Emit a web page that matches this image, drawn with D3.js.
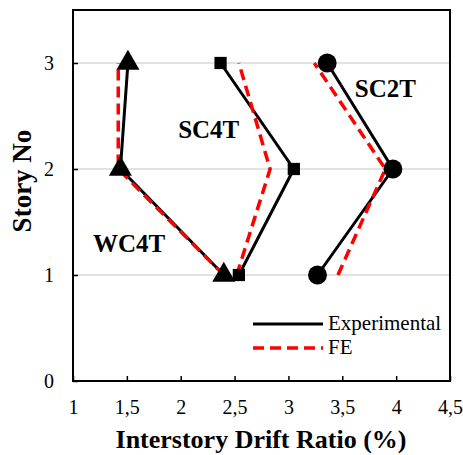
<!DOCTYPE html>
<html>
<head>
<meta charset="utf-8">
<script src="https://cdn.jsdelivr.net/npm/d3@7"></script>
<style>
  body { margin: 0; background: #fff; }
  text { font-family: "Liberation Serif", "Times New Roman", serif; }
</style>
</head>
<body>
<div id="chart"></div>
<script>
// stories
const stories = [1, 2, 3];

// drift ratio (%) per story 1..3
const wc4tExp = [2.40, 1.44, 1.51];
const wc4tFE  = [2.40, 1.42, 1.42];
const sc4tExp = [2.54, 3.05, 2.37];
const sc4tFE  = [2.52, 2.83, 2.54];
const sc2tExp = [3.27, 3.97, 3.36];
const sc2tFE  = [3.46, 3.90, 3.24];

const xTicks = [1, 1.5, 2, 2.5, 3, 3.5, 4, 4.5];
const yTicks = [0, 1, 2, 3];

const W = 463, H = 455;
const m = { left: 73, right: 13, top: 10, bottom: 74 };

const svg = d3.select("#chart").append("svg")
    .attr("width", W).attr("height", H);

const x = d3.scaleLinear().domain([1, 4.5]).range([m.left, W - m.right]);
const y = d3.scaleLinear().domain([0, 3.5]).range([H - m.bottom, m.top]);

// gridlines
svg.append("g").selectAll("line")
    .data(yTicks.filter(d => d > 0))
    .enter().append("line")
    .attr("x1", x(1)).attr("x2", x(4.5))
    .attr("y1", d => y(d)).attr("y2", d => y(d))
    .attr("stroke", "#d9d9d9").attr("stroke-width", 1.5);

// frame
svg.append("rect")
    .attr("x", x(1)).attr("y", y(3.5))
    .attr("width", x(4.5) - x(1)).attr("height", y(0) - y(3.5))
    .attr("fill", "none").attr("stroke", "#000").attr("stroke-width", 2);

// axes, ticks inward
const xAxis = svg.append("g")
    .attr("transform", `translate(0,${y(0)})`)
    .call(d3.axisBottom(x).tickValues(xTicks).tickSize(-5).tickPadding(19)
        .tickFormat(d => String(d).replace(".", ",")));
const yAxis = svg.append("g")
    .attr("transform", `translate(${x(1)},0)`)
    .call(d3.axisLeft(y).tickValues(yTicks).tickSize(-5).tickPadding(19)
        .tickFormat(d3.format("d")));

[xAxis, yAxis].forEach(a => {
    a.select(".domain").remove();
    a.selectAll("line").attr("stroke", "#000").attr("stroke-width", 1.5);
    a.selectAll("text").attr("font-size", 20)
        .attr("font-family", "Liberation Serif, serif").attr("fill", "#000");
});

// axis titles
svg.append("text")
    .attr("x", 261).attr("y", 448)
    .attr("text-anchor", "middle")
    .attr("font-size", 26).attr("font-weight", "bold")
    .text("Interstory Drift Ratio (%)");

svg.append("text")
    .attr("transform", `translate(31,181) rotate(-90)`)
    .attr("text-anchor", "middle")
    .attr("font-size", 27).attr("font-weight", "bold")
    .text("Story No");

const line = d3.line().x(d => x(d[0])).y(d => y(d[1]));
const pts = vals => vals.map((v, i) => [v, stories[i]]);

const fe = [wc4tFE, sc4tFE, sc2tFE];
const exp = [
    { vals: wc4tExp, shape: d3.symbolTriangle, size: 230 },
    { vals: sc4tExp, shape: d3.symbolSquare, size: 150 },
    { vals: sc2tExp, shape: d3.symbolCircle, size: 280 }
];

// experimental lines
svg.append("g").selectAll("path")
    .data(exp).enter().append("path")
    .attr("d", d => line(pts(d.vals)))
    .attr("fill", "none").attr("stroke", "#000").attr("stroke-width", 3);

// FE dashed lines
svg.append("g").selectAll("path")
    .data(fe).enter().append("path")
    .attr("d", d => line(pts(d)))
    .attr("fill", "none").attr("stroke", "#ff0000").attr("stroke-width", 3.5)
    .attr("stroke-dasharray", "11,6");

// markers
exp.forEach(s => {
    svg.append("g").selectAll("path")
        .data(pts(s.vals)).enter().append("path")
        .attr("transform", d => `translate(${x(d[0])},${y(d[1])})`)
        .attr("d", d3.symbol().type(s.shape).size(s.size))
        .attr("fill", "#000");
});

// series labels
const labels = [
    { t: "SC2T", xv: 3.9, yv: 2.68 },
    { t: "SC4T", xv: 2.26, yv: 2.29 },
    { t: "WC4T", xv: 1.52, yv: 1.22 }
];
svg.append("g").selectAll("text")
    .data(labels).enter().append("text")
    .attr("x", d => x(d.xv)).attr("y", d => y(d.yv))
    .attr("text-anchor", "middle")
    .attr("font-size", 25).attr("font-weight", "bold")
    .text(d => d.t);

// legend
const lg = svg.append("g");
const legendItems = [
    { t: "Experimental", dash: null, c: "#000", w: 3 },
    { t: "FE", dash: "11,6", c: "#ff0000", w: 3.5 }
];
legendItems.forEach((d, i) => {
    const ly = 324 + i * 24;
    lg.append("line")
        .attr("x1", 253).attr("x2", 323).attr("y1", ly).attr("y2", ly)
        .attr("stroke", d.c).attr("stroke-width", d.w)
        .attr("stroke-dasharray", d.dash);
    lg.append("text")
        .attr("x", 328).attr("y", ly + 6)
        .attr("font-size", 21).text(d.t);
});
</script>
</body>
</html>
